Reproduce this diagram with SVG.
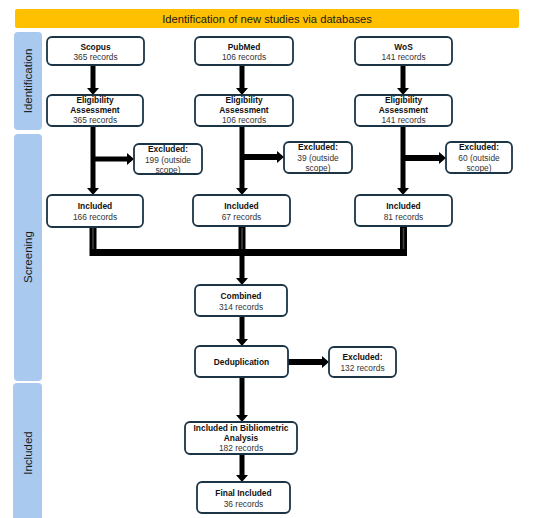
<svg xmlns="http://www.w3.org/2000/svg" width="550" height="518" viewBox="0 0 550 518">
<style>
.bx{fill:#fff;stroke:#1b3446;stroke-width:1.8}
.side{fill:#a9c9ee}
.t{font-family:"Liberation Sans",Arial,sans-serif;font-size:8.4px;text-anchor:middle;fill:#333}
.b{font-weight:bold;fill:#111}
.lane{font-family:"Liberation Sans",Arial,sans-serif;font-size:11.5px;text-anchor:middle;fill:#1a1a1a}
.c{fill:none;stroke:#000;stroke-width:5}
.c6{fill:none;stroke:#000;stroke-width:6}
</style>
<defs>
<marker id="ah" markerUnits="userSpaceOnUse" viewBox="0 0 7 12" refX="0" refY="6" markerWidth="7" markerHeight="12" orient="auto">
<path d="M0,0 L7,6 L0,12 z" fill="#000"/>
</marker>
</defs>
<rect width="550" height="518" fill="#fff"/>
<g id="banner">
<rect x="15" y="9" width="504" height="19" rx="2" fill="#ffc000"/>
<text x="267" y="23" font-family="Liberation Sans,Arial,sans-serif" font-size="11.2px" text-anchor="middle" fill="#1a1a1a">Identification of new studies via databases</text>
</g>
<g id="lane-identification">
<rect class="side" x="14" y="32" width="28" height="98" rx="4"/>
<text class="lane" transform="translate(32,81) rotate(-90)">Identification</text>
</g>
<g id="lane-screening">
<rect class="side" x="14" y="134" width="28" height="247" rx="4"/>
<text class="lane" transform="translate(32,257) rotate(-90)">Screening</text>
</g>
<g id="lane-included">
<rect class="side" x="13" y="383" width="29" height="140" rx="4"/>
<text class="lane" transform="translate(32,453) rotate(-90)">Included</text>
</g>
<g id="connectors">
<line class="c" x1="93" y1="65" x2="93" y2="88" marker-end="url(#ah)"/>
<line class="c" x1="242" y1="65" x2="242" y2="88" marker-end="url(#ah)"/>
<line class="c" x1="403" y1="65" x2="403" y2="88" marker-end="url(#ah)"/>
<line class="c" x1="93" y1="126" x2="93" y2="188" marker-end="url(#ah)"/>
<line class="c" x1="242" y1="126" x2="242" y2="188" marker-end="url(#ah)"/>
<line class="c" x1="403" y1="126" x2="403" y2="188" marker-end="url(#ah)"/>
<line class="c" x1="93" y1="159" x2="127" y2="159" marker-end="url(#ah)"/>
<line class="c6" x1="242" y1="157" x2="277" y2="157" marker-end="url(#ah)"/>
<line class="c6" x1="403" y1="158" x2="439" y2="158" marker-end="url(#ah)"/>
<path d="M93,227 V252.5 H403.5 V227 M242,227 V256" fill="none" stroke="#000" stroke-width="7"/>
<path d="M93,228 V249 M242,228 V249 M403.5,228 V249" fill="none" stroke="#444" stroke-width="1.5"/>
<line class="c" x1="242" y1="256" x2="242" y2="278" marker-end="url(#ah)"/>
<line class="c" x1="242" y1="316" x2="242" y2="339" marker-end="url(#ah)"/>
<line class="c6" x1="288" y1="362" x2="322" y2="362" marker-end="url(#ah)"/>
<line class="c" x1="242" y1="377" x2="242" y2="415" marker-end="url(#ah)"/>
<line class="c" x1="242" y1="454" x2="242" y2="475" marker-end="url(#ah)"/>
</g>
<g id="scopus">
<rect class="bx" x="47" y="37" width="97" height="28" rx="5"/>
<text class="t b" x="95.5" y="50">Scopus</text>
<text class="t" x="95.5" y="60">365 records</text>
</g>
<g id="pubmed">
<rect class="bx" x="195" y="37" width="98" height="28" rx="5"/>
<text class="t b" x="244" y="50">PubMed</text>
<text class="t" x="244" y="60">106 records</text>
</g>
<g id="wos">
<rect class="bx" x="355" y="37" width="97" height="28" rx="5"/>
<text class="t b" x="403.5" y="50">WoS</text>
<text class="t" x="403.5" y="60">141 records</text>
</g>
<g id="elig-scopus">
<rect class="bx" x="47" y="95" width="96" height="31" rx="5"/>
<text class="t b" x="95" y="103">Eligibility</text>
<text class="t b" x="95" y="113">Assessment</text>
<text class="t" x="95" y="123">365 records</text>
</g>
<g id="elig-pubmed">
<rect class="bx" x="195" y="95" width="98" height="31" rx="5"/>
<text class="t b" x="244" y="103">Eligibility</text>
<text class="t b" x="244" y="113">Assessment</text>
<text class="t" x="244" y="123">106 records</text>
</g>
<g id="elig-wos">
<rect class="bx" x="355" y="95" width="97" height="31" rx="5"/>
<text class="t b" x="403.5" y="103">Eligibility</text>
<text class="t b" x="403.5" y="113">Assessment</text>
<text class="t" x="403.5" y="123">141 records</text>
</g>
<g id="excl-scopus">
<rect class="bx" x="134" y="144" width="68" height="30" rx="5"/>
<text class="t b" x="168" y="152">Excluded:</text>
<text class="t" x="168" y="163">199 (outside</text>
<text class="t" x="168" y="173">scope)</text>
</g>
<g id="excl-pubmed">
<rect class="bx" x="284" y="142" width="68" height="31" rx="5"/>
<text class="t b" x="318" y="150">Excluded:</text>
<text class="t" x="318" y="161">39 (outside</text>
<text class="t" x="318" y="171">scope)</text>
</g>
<g id="excl-wos">
<rect class="bx" x="446" y="142" width="66" height="31" rx="5"/>
<text class="t b" x="479" y="150">Excluded:</text>
<text class="t" x="479" y="161">60 (outside</text>
<text class="t" x="479" y="171">scope)</text>
</g>
<g id="incl-scopus">
<rect class="bx" x="47" y="195" width="96" height="32" rx="5"/>
<text class="t b" x="95" y="209">Included</text>
<text class="t" x="95" y="220">166 records</text>
</g>
<g id="incl-pubmed">
<rect class="bx" x="193" y="195" width="97" height="31" rx="5"/>
<text class="t b" x="241.5" y="209">Included</text>
<text class="t" x="241.5" y="220">67 records</text>
</g>
<g id="incl-wos">
<rect class="bx" x="355" y="195" width="97" height="31" rx="5"/>
<text class="t b" x="403.5" y="209">Included</text>
<text class="t" x="403.5" y="220">81 records</text>
</g>
<g id="combined">
<rect class="bx" x="195" y="285" width="92" height="31" rx="5"/>
<text class="t b" x="241" y="299">Combined</text>
<text class="t" x="241" y="310">314 records</text>
</g>
<g id="dedup">
<rect class="bx" x="195" y="346" width="93" height="31" rx="5"/>
<text class="t b" x="241.5" y="365">Deduplication</text>
</g>
<g id="excl-dedup">
<rect class="bx" x="329" y="347" width="67" height="30" rx="5"/>
<text class="t b" x="362.5" y="360">Excluded:</text>
<text class="t" x="362.5" y="371">132 records</text>
</g>
<g id="biblio">
<rect class="bx" x="185" y="422" width="112" height="32" rx="5"/>
<text class="t b" x="241" y="431">Included in Bibliometric</text>
<text class="t b" x="241" y="441">Analysis</text>
<text class="t" x="241" y="451">182 records</text>
</g>
<g id="final">
<rect class="bx" x="197" y="482" width="93" height="31" rx="5"/>
<text class="t b" x="243.5" y="496">Final Included</text>
<text class="t" x="243.5" y="507">36 records</text>
</g>
</svg>
